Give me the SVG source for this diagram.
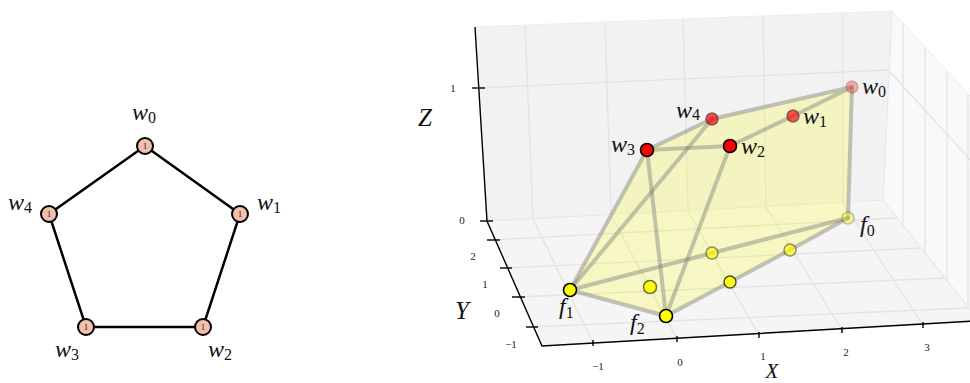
<svg xmlns="http://www.w3.org/2000/svg" width="970" height="383" viewBox="0 0 970 383">
<style>
.mi{font-family:"Liberation Serif","DejaVu Serif",serif;font-style:italic;font-size:24px;fill:#111}
.sub{font-style:normal;font-size:16px}
.tk{font-family:"Liberation Serif","DejaVu Serif",serif;font-size:11px;fill:#222;text-anchor:middle}
.ax{font-family:"Liberation Serif","DejaVu Serif",serif;font-style:italic;font-size:25px;fill:#111;text-anchor:middle}
.gedge{stroke:#000;stroke-width:2.5;fill:none}
.gnode{fill:#f5bfad;stroke:#000;stroke-width:2}
.nl{font-family:"Liberation Serif","DejaVu Serif",serif;font-size:9px;fill:#222;text-anchor:middle}
.grid{stroke:#e3e3e3;stroke-width:1.3;fill:none}
.axis{stroke:#000;stroke-width:1.4;fill:none}
.pedge{stroke:#777;stroke-opacity:0.42;stroke-width:4;fill:none;stroke-linecap:round}
</style>

<!-- Left: 5-cycle graph -->
<g id="edges-left">
<polyline class="gedge" points="145,146 240,214 203,327 86,327 49,214 145,146"/>
</g>
<g id="g-w0"><circle class="gnode" cx="145" cy="146" r="8"/><text class="nl" x="145" y="149">1</text><text class="mi" x="132" y="120">w<tspan class="sub" dy="3">0</tspan></text></g>
<g id="g-w1"><circle class="gnode" cx="240" cy="214" r="8"/><text class="nl" x="240" y="217">1</text><text class="mi" x="257" y="210">w<tspan class="sub" dy="3">1</tspan></text></g>
<g id="g-w2"><circle class="gnode" cx="203" cy="327" r="8"/><text class="nl" x="203" y="330">1</text><text class="mi" x="208" y="357">w<tspan class="sub" dy="3">2</tspan></text></g>
<g id="g-w3"><circle class="gnode" cx="86" cy="327" r="8"/><text class="nl" x="86" y="330">1</text><text class="mi" x="55" y="357">w<tspan class="sub" dy="3">3</tspan></text></g>
<g id="g-w4"><circle class="gnode" cx="49" cy="214" r="8"/><text class="nl" x="49" y="217">1</text><text class="mi" x="8" y="210">w<tspan class="sub" dy="3">4</tspan></text></g>

<!-- Right: 3D plot panes -->
<g id="panes">
<polygon points="475,27 892,11 883,200 487,221" fill="#f2f2f2"/>
<polygon points="487,221 883,200 980,322 542,346" fill="#f5f5f5"/>
<polygon points="892,11 980,107 980,322 883,200" fill="#f9f9f9"/>
</g>
<g id="gridlines">
<line class="grid" x1="525" y1="25" x2="533" y2="219"/>
<line class="grid" x1="605" y1="22" x2="611" y2="215"/>
<line class="grid" x1="683" y1="19" x2="688" y2="211"/>
<line class="grid" x1="763" y1="16" x2="766" y2="207"/>
<line class="grid" x1="843" y1="13" x2="843" y2="203"/>
<line class="grid" x1="478" y1="88" x2="888" y2="70"/>
<line class="grid" x1="533" y1="219" x2="593" y2="343"/>
<line class="grid" x1="611" y1="215" x2="677" y2="339"/>
<line class="grid" x1="688" y1="211" x2="759" y2="335"/>
<line class="grid" x1="766" y1="207" x2="842" y2="330"/>
<line class="grid" x1="843" y1="203" x2="923" y2="325"/>
<line class="grid" x1="493" y1="240" x2="897" y2="218"/>
<line class="grid" x1="506" y1="268" x2="920" y2="248"/>
<line class="grid" x1="518" y1="297" x2="944" y2="278"/>
<line class="grid" x1="532" y1="327" x2="967" y2="308"/>
<line class="grid" x1="903" y1="23" x2="903" y2="226"/>
<line class="grid" x1="925" y1="47" x2="925" y2="254"/>
<line class="grid" x1="947" y1="70" x2="947" y2="282"/>
<line class="grid" x1="968" y1="93" x2="968" y2="309"/>
<line class="grid" x1="888" y1="70" x2="975" y2="165"/>
<polyline points="475,27 892,11 980,107" stroke="#ececec" stroke-width="1" fill="none"/>
<line x1="892" y1="11" x2="883" y2="200" stroke="#e8e8e8" stroke-width="1.2"/>
<polyline points="487,221 883,200 980,322" stroke="#e8e8e8" stroke-width="1.2" fill="none"/>
</g>
<g id="axes">
<polyline class="axis" points="475,27 487,221 542,346 975,321"/>
<line class="axis" x1="472" y1="88" x2="485" y2="88"/>
<line class="axis" x1="480" y1="221" x2="493" y2="221"/>
<line class="axis" x1="487" y1="240" x2="500" y2="240"/>
<line class="axis" x1="500" y1="268" x2="512" y2="268"/>
<line class="axis" x1="512" y1="297" x2="525" y2="297"/>
<line class="axis" x1="526" y1="327" x2="538" y2="327"/>
<line class="axis" x1="593" y1="340" x2="593" y2="346"/>
<line class="axis" x1="677" y1="336" x2="677" y2="342"/>
<line class="axis" x1="759" y1="332" x2="759" y2="338"/>
<line class="axis" x1="842" y1="327" x2="842" y2="333"/>
<line class="axis" x1="923" y1="322" x2="923" y2="328"/>
<text class="tk" x="453" y="92">1</text>
<text class="tk" x="462" y="224">0</text>
<text class="tk" x="473" y="260">2</text>
<text class="tk" x="485" y="288">1</text>
<text class="tk" x="497" y="317">0</text>
<text class="tk" x="511" y="348">−1</text>
<text class="tk" x="598" y="370">−1</text>
<text class="tk" x="680" y="366">0</text>
<text class="tk" x="763" y="360">1</text>
<text class="tk" x="846" y="356">2</text>
<text class="tk" x="927" y="351">3</text>
<text class="ax" x="425" y="126">Z</text>
<text class="ax" x="462" y="319">Y</text>
<text class="ax" x="772" y="378" style="font-size:21px">X</text>
</g>

<g id="hull">
<polygon points="647,150 712,119 852,87 848,218 790,250 730,282 666,316 570,290" fill="#ffff00" fill-opacity="0.2"/>
</g>
<g id="connectors">
<polyline class="pedge" points="647,150 712,119 852,87 793,116 730,146 647,150"/>
<line class="pedge" x1="852" y1="87" x2="848" y2="218"/>
<line class="pedge" x1="647" y1="150" x2="570" y2="290"/>
<line class="pedge" x1="712" y1="119" x2="570" y2="290"/>
<line class="pedge" x1="647" y1="150" x2="666" y2="316"/>
<line class="pedge" x1="730" y1="146" x2="666" y2="316"/>
<polyline class="pedge" points="570,290 666,316 730,282 790,250 848,218"/>
<polyline class="pedge" points="570,290 712,253 848,218"/>
</g>

<g id="p-w0"><circle cx="852" cy="87" r="6" fill="#ff0000" fill-opacity="0.3" stroke="#555" stroke-opacity="0.3" stroke-width="1.5"/><text class="mi" x="862" y="94">w<tspan class="sub" dy="3">0</tspan></text></g>
<g id="p-w1"><circle cx="793" cy="116" r="6" fill="#ff0000" fill-opacity="0.65" stroke="#333" stroke-opacity="0.6" stroke-width="1.5"/><text class="mi" x="803" y="124">w<tspan class="sub" dy="3">1</tspan></text></g>
<g id="p-w4"><circle cx="712" cy="119" r="6" fill="#ff0000" fill-opacity="0.7" stroke="#333" stroke-opacity="0.6" stroke-width="1.5"/><text class="mi" x="676" y="118">w<tspan class="sub" dy="2">4</tspan></text></g>
<g id="p-w3"><circle cx="647" cy="150" r="6.5" fill="#ff0000" stroke="#000" stroke-width="1.6"/><text class="mi" x="611" y="152">w<tspan class="sub" dy="3">3</tspan></text></g>
<g id="p-w2"><circle cx="730" cy="146" r="6.5" fill="#ff0000" stroke="#000" stroke-width="1.6"/><text class="mi" x="741" y="154">w<tspan class="sub" dy="3">2</tspan></text></g>
<g id="p-f0"><circle cx="848" cy="218" r="6" fill="#ffff00" fill-opacity="0.35" stroke="#555" stroke-opacity="0.35" stroke-width="1.5"/><text class="mi" x="860" y="232">f<tspan class="sub" dy="4">0</tspan></text></g>
<g id="p-a"><circle cx="790" cy="250" r="6" fill="#ffff00" fill-opacity="0.65" stroke="#333" stroke-opacity="0.55" stroke-width="1.5"/></g>
<g id="p-b"><circle cx="712" cy="253" r="6" fill="#ffff00" fill-opacity="0.65" stroke="#333" stroke-opacity="0.55" stroke-width="1.5"/></g>
<g id="p-c"><circle cx="730" cy="282" r="6" fill="#ffff00" fill-opacity="0.9" stroke="#222" stroke-opacity="0.8" stroke-width="1.5"/></g>
<g id="p-d"><circle cx="650" cy="287" r="6.5" fill="#ffff00" fill-opacity="0.95" stroke="#333" stroke-opacity="0.7" stroke-width="1.5"/></g>
<g id="p-f1"><circle cx="570" cy="290" r="6.5" fill="#ffff00" stroke="#000" stroke-width="1.6"/><text class="mi" x="559" y="314">f<tspan class="sub" dy="4">1</tspan></text></g>
<g id="p-f2"><circle cx="666" cy="316" r="6.5" fill="#ffff00" stroke="#000" stroke-width="1.6"/><text class="mi" x="630" y="330">f<tspan class="sub" dy="4">2</tspan></text></g>
</svg>
